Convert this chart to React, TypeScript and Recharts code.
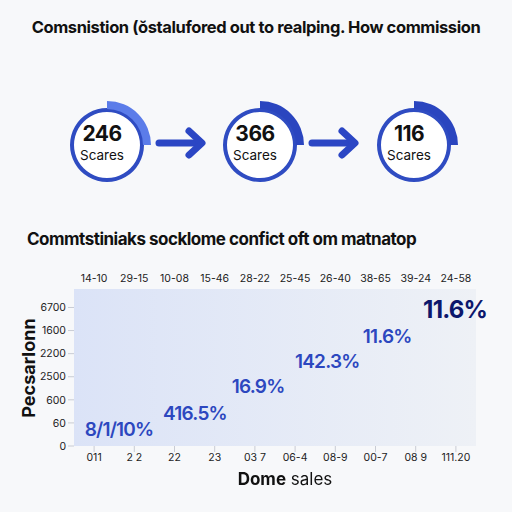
import { PieChart, Pie, Cell, ScatterChart, Scatter, XAxis, YAxis, CartesianGrid } from "recharts";

// gauges along the top
const gaugeValues = [246, 366, 116];
const gaugeShare = [25, 25, 25];
const gaugeUnit = "Scares";

// scatter of annotated points
const topTicks = ["14-10", "29-15", "10-08", "15-46", "28-22", "25-45", "26-40", "38-65", "39-24", "24-58"];
const bottomTicks = ["011", "2 2", "22", "23", "03 7", "06-4", "08-9", "00-7", "08 9", "111.20"];
const yTicks = ["0", "60", "600", "2500", "2200", "1600", "6700"];
const pointX = [0.62, 2.51, 4.08, 5.8, 7.29, 8.98];
const pointY = [0.7, 1.39, 2.57, 3.65, 4.74, 5.9];
const pointLabels = ["8/1/10%", "416.5%", "16.9%", "142.3%", "11.6%", "11.6%"];

const FONT = "Inter, 'Noto Sans', sans-serif";
const BLUE = "#2c47bf";
const gaugeX = [102, 255, 409];
const gaugeY = 75;

const points = pointX.map((x, i) => ({ x, y: pointY[i], label: pointLabels[i], last: i === pointX.length - 1 }));

function PointText(props: any) {
  const { cx, cy, payload } = props;
  return (
    <text
      x={cx}
      y={cy}
      textAnchor="middle"
      dominantBaseline="central"
      fontFamily={FONT}
      fontWeight={payload.last ? 700 : 600}
      fontSize={payload.last ? 24 : 19}
      letterSpacing={-0.8}
      fill={payload.last ? "#0c176c" : BLUE}
    >
      {payload.label}
    </text>
  );
}

function Arrow({ x }: { x: number }) {
  return (
    <g stroke="#2b46c4" strokeWidth={7} strokeLinecap="round" strokeLinejoin="round" fill="none">
      <line x1={x} y1={0} x2={x + 42} y2={0} />
      <polyline points={`${x + 30},-12 ${x + 43},0 ${x + 30},12`} />
    </g>
  );
}

const tickStyle = { fontSize: 10.5, fill: "#222", fontFamily: FONT };

export default function App() {
  return (
    <div style={{ position: "fixed", left: 0, top: 0, width: 512, height: 512, background: "#f7f8fa", fontFamily: FONT }}>
      <div style={{ position: "absolute", top: 17, left: 0, width: 512, textAlign: "center", fontSize: 16.5, fontWeight: 700, letterSpacing: -0.4, color: "#111" }}>
        Comsnistion (ŏstalufored out to realping. How commission
      </div>

      <div style={{ position: "absolute", top: 65, left: 0 }}>
        <PieChart width={512} height={150}>
          {gaugeValues.map((_, i) => (
            <Pie key={`disk${i}`} data={[{ v: 1 }]} dataKey="v" cx={gaugeX[i]} cy={gaugeY} outerRadius={34} stroke="none" fill="#ffffff" isAnimationActive={false} />
          ))}
          {gaugeValues.map((_, i) => (
            <Pie key={`ring${i}`} data={[{ v: 1 }]} dataKey="v" cx={gaugeX[i]} cy={gaugeY} innerRadius={33} outerRadius={37} stroke="none" fill="#2f4cc2" isAnimationActive={false} />
          ))}
          {gaugeShare.map((s, i) => (
            <Pie
              key={`arc${i}`}
              data={[{ v: s }, { v: 100 - s }]}
              dataKey="v"
              cx={gaugeX[i]}
              cy={gaugeY}
              startAngle={90}
              endAngle={-270}
              innerRadius={36}
              outerRadius={44}
              stroke="none"
              isAnimationActive={false}
            >
              <Cell fill={i === 0 ? "#5b7ce9" : "#2a45bf"} />
              <Cell fill="transparent" />
            </Pie>
          ))}
        </PieChart>
        <svg width={512} height={150} style={{ position: "absolute", left: 0, top: 0 }}>
          <g transform="translate(0,78)">
            <Arrow x={159} />
            <Arrow x={312} />
          </g>
          {gaugeValues.map((v, i) => (
            <g key={i} fontFamily={FONT} textAnchor="middle" fill="#111">
              <text x={gaugeX[i]} y={gaugeY + 1} fontSize={21} fontWeight={700} letterSpacing={-0.5}>{v}</text>
              <text x={gaugeX[i]} y={gaugeY + 20} fontSize={13.5}>{gaugeUnit}</text>
            </g>
          ))}
        </svg>
      </div>

      <div style={{ position: "absolute", top: 229, left: 27, fontSize: 17, fontWeight: 700, letterSpacing: -0.5, color: "#111" }}>
        Commtstiniaks socklome confict oft om matnatop
      </div>

      <div style={{ position: "absolute", top: 260, left: 0 }}>
        <ScatterChart width={512} height={250} margin={{ top: 0, right: 36, bottom: 34, left: 0 }}>
          <defs>
            <linearGradient id="plotBg" x1="0" y1="0" x2="1" y2="0">
              <stop offset="0%" stopColor="#dbe3f7" />
              <stop offset="100%" stopColor="#eef1f6" />
            </linearGradient>
          </defs>
          <CartesianGrid horizontal={false} vertical={false} fill="url(#plotBg)" />
          <XAxis
            xAxisId="top"
            orientation="top"
            dataKey="x"
            type="number"
            domain={[-0.5, topTicks.length - 0.5]}
            ticks={topTicks.map((_, i) => i)}
            interval={0}
            tickFormatter={(_: any, i: number) => topTicks[i]}
            height={29}
            axisLine={false}
            tickLine={false}
            tickMargin={1}
            tick={tickStyle}
          />
          <XAxis
            xAxisId="bottom"
            dataKey="x"
            type="number"
            domain={[-0.5, bottomTicks.length - 0.5]}
            ticks={bottomTicks.map((_, i) => i)}
            interval={0}
            tickFormatter={(_: any, i: number) => bottomTicks[i]}
            height={30}
            axisLine={false}
            tickSize={6}
            tickMargin={2}
            tickLine={{ stroke: "#c9ccd4" }}
            tick={tickStyle}
          />
          <YAxis
            dataKey="y"
            type="number"
            domain={[0, 6.8]}
            ticks={yTicks.map((_, i) => i)}
            interval={0}
            tickFormatter={(_: any, i: number) => yTicks[i]}
            width={74}
            axisLine={false}
            tickSize={6}
            tickMargin={2}
            tickLine={{ stroke: "#c9ccd4" }}
            tick={tickStyle}
          />
          {/* the top axis shares the same points, drawn invisibly */}
          <Scatter data={points} xAxisId="top" shape={() => <g />} isAnimationActive={false} />
          <Scatter data={points} xAxisId="bottom" shape={PointText} isAnimationActive={false} />
        </ScatterChart>
      </div>

      <div style={{ position: "absolute", left: 28, top: 368, transform: "translate(-50%, -50%) rotate(-90deg)", fontSize: 18, fontWeight: 700, color: "#111", whiteSpace: "nowrap" }}>
        Pecsarlonn
      </div>
      <div style={{ position: "absolute", left: 0, width: 570, top: 469, textAlign: "center", fontSize: 17, color: "#111" }}>
        <b>Dome</b> sales
      </div>
    </div>
  );
}
